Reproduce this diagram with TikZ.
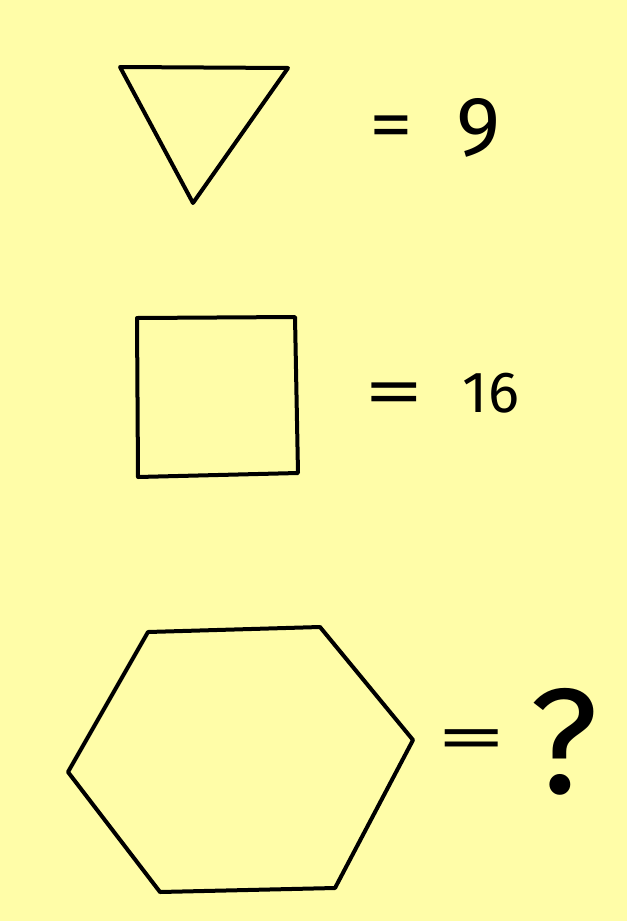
\documentclass[tikz,border=0pt]{standalone}
\usepackage{graphicx}
\usepackage{fontspec}
\setmainfont{Fira Sans}
\definecolor{paper}{RGB}{255,253,168}
\newcommand{\wideeq}[1]{\scalebox{#1}[1]{=}}
\tikzset{
  shapeline/.style={draw=black, line width=4pt, line join=round, line cap=round},
  eqsign/.style={inner sep=0pt, font=\fontsize{70}{70}\selectfont},
  value/.style={inner sep=0pt, anchor=center},
}
\begin{document}
\begin{tikzpicture}[x=1pt, y=-1pt]
    % Paper
    \fill[paper] (0,0) rectangle (627,921);
    \useasboundingbox (0,0) rectangle (627,921);

    % Triangle
    \draw[shapeline] (120,67) -- (288,68) -- (193,203) -- cycle;
    \node[eqsign] (eqA) at (391,132) {\wideeq{1.25}};
    \node[value, font=\fontsize{84}{84}\selectfont] (nine) at (479,128) {9};

    % Square
    \draw[shapeline] (137,318) -- (295,317) -- (298,473) -- (138,477) -- cycle;
    \node[eqsign] (eqB) at (394,399) {\wideeq{1.7}};
    \node[value, font=\fontsize{58}{58}\selectfont] (sixteen) at (491,393) {16};

    % Hexagon
    \draw[shapeline] (148,632) -- (320,627) -- (413,740) -- (335,888)
        -- (160,892) -- (68,772) -- cycle;
    \node[eqsign, font=\fontsize{64}{64}\selectfont] (eqC) at (472,745) {\wideeq{2.2}};
    \node[value, font=\fontsize{150}{150}\selectfont] (query) at (564,742) {?};
\end{tikzpicture}
\end{document}
